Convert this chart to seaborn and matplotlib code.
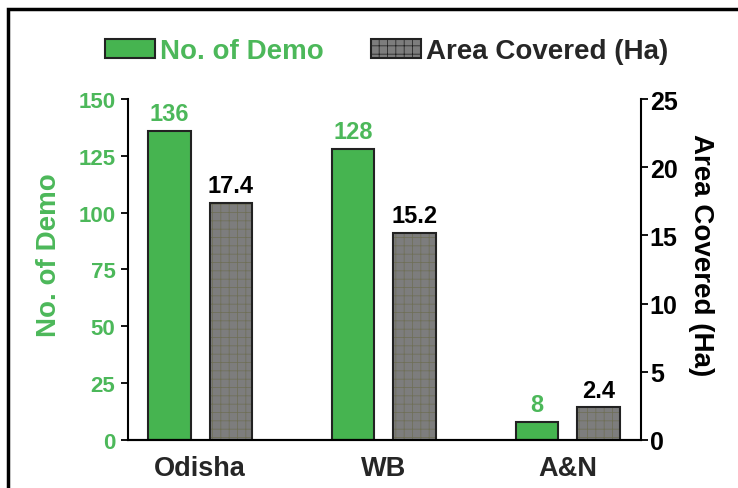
import pandas as pd
import seaborn as sns
import matplotlib.pyplot as plt
from matplotlib.patches import Rectangle, Patch

regions = ["Odisha", "WB", "A&N"]
demo = [136, 128, 8]
area = [17.4, 15.2, 2.4]
series = ["No. of Demo", "Area Covered (Ha)"]

green = "#46b450"
green_txt = "#4cb85a"
grey = "#7d7d7d"
edge = "#222222"

sns.set_style("white")
plt.rcParams["font.family"] = ["Liberation Sans", "DejaVu Sans"]
plt.rcParams["font.weight"] = "bold"
plt.rcParams["hatch.linewidth"] = 0.55

df_demo = pd.DataFrame({"region": regions, "value": demo, "series": series[0]})
df_area = pd.DataFrame({"region": regions, "value": area, "series": series[1]})
pal = {series[0]: green, series[1]: grey}


def real_container(a):
    for c in a.containers:
        if len(c.patches) and all(p is not None for p in c.patches):
            return c


fig = plt.figure(figsize=(7.38, 4.89), dpi=100)
ax = fig.add_axes([0.1734, 0.0982, 0.6958, 0.6973])
ax2 = ax.twinx()

sns.barplot(data=df_demo, x="region", y="value", hue="series", hue_order=series,
            palette=pal, saturation=1, width=0.667, gap=0.31, dodge=True,
            errorbar=None, legend=False, edgecolor=edge, linewidth=1.5, ax=ax)
sns.barplot(data=df_area, x="region", y="value", hue="series", hue_order=series,
            palette=pal, saturation=1, width=0.667, gap=0.31, dodge=True,
            errorbar=None, legend=False, linewidth=0, ax=ax2)

c_demo = real_container(ax)
c_area = real_container(ax2)

# dotted texture on the grey bars, then redraw their outline
for p in list(c_area.patches):
    p.set_hatch("++")
    p.set_edgecolor("#6f6f58")
    ax2.add_patch(Rectangle(p.get_xy(), p.get_width(), p.get_height(),
                            fill=False, edgecolor=edge, linewidth=1.5))

ax.bar_label(c_demo, labels=[str(v) for v in demo], padding=4,
             color=green_txt, fontsize=17, fontweight="bold")
ax2.bar_label(c_area, labels=[f"{v:.1f}" for v in area], padding=4,
              color="black", fontsize=17, fontweight="bold")

ax.set_xlim(-0.393, 2.401)
ax.set_ylim(0, 150)
ax2.set_ylim(0, 25)
ax.set_yticks(range(0, 151, 25))
ax2.set_yticks(range(0, 26, 5))

ax.set_xlabel("")
ax.set_ylabel("No. of Demo", color=green_txt, fontsize=20, fontweight="bold")
ax2.set_ylabel("Area Covered (Ha)", color="black", fontsize=20,
               fontweight="bold", rotation=270, va="bottom")
ax.yaxis.set_label_coords(-0.128, 0.545)
ax2.yaxis.set_label_coords(1.090, 0.545)

ax.tick_params(axis="x", length=0, pad=11, labelsize=19.5)
ax.tick_params(axis="y", length=5, width=1.3, pad=4, labelsize=16,
               labelcolor=green_txt, color="black", direction="out")
ax2.tick_params(axis="y", length=5, width=1.3, pad=1, labelsize=18,
                labelcolor="black", color="black", direction="out")
for lab in ax.get_xticklabels() + ax.get_yticklabels() + ax2.get_yticklabels():
    lab.set_fontweight("bold")

for a in (ax, ax2):
    a.spines["top"].set_visible(False)
    for s in ("left", "right", "bottom"):
        a.spines[s].set_color("black")
        a.spines[s].set_linewidth(1.5)
ax.spines["right"].set_visible(False)
ax2.spines["left"].set_visible(False)

handles = [Patch(facecolor=green, edgecolor=edge, linewidth=1.5),
           Patch(facecolor=grey, edgecolor=edge, linewidth=1.5, hatch="++")]
leg = fig.legend(handles, series, loc="center", bbox_to_anchor=(0.5244, 0.893),
                 ncol=2, frameon=False, handlelength=1.8,
                 handleheight=0.65, handletextpad=0.18, columnspacing=1.7,
                 prop={"weight": "bold", "size": 20})
leg.get_texts()[0].set_color(green_txt)

fig.patches.append(Rectangle((0.011, -0.1), 1.2, 1.1 - 10 / 489, fill=False,
                             edgecolor="black", linewidth=2.5,
                             transform=fig.transFigure, figure=fig))

fig.savefig("out.png", dpi=100)
